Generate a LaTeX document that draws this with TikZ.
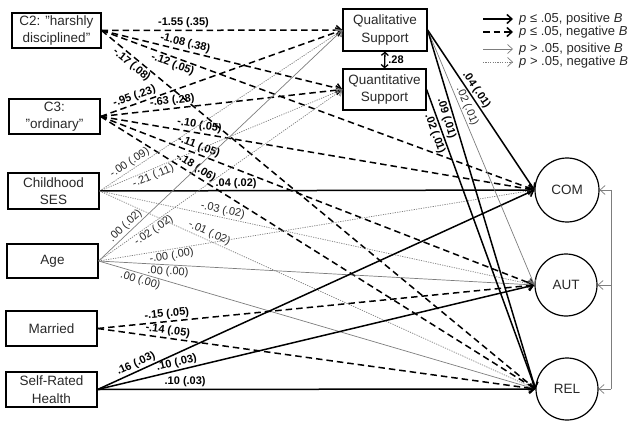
\documentclass[tikz,border=0pt]{standalone}
\usepackage{fontspec}
\setmainfont{Liberation Sans}
\usetikzlibrary{arrows.meta}
\definecolor{nsgray}{RGB}{125,125,125}
\definecolor{txt}{RGB}{40,40,40}
\begin{document}
\begin{tikzpicture}[x=1pt,y=-1pt,
  box/.style={draw, line width=1.2pt, minimum width=90pt, minimum height=35pt, align=center, inner sep=1pt, text=txt, font=\fontsize{13.5}{17.5}\selectfont},
  circ/.style={draw, circle, line width=1.2pt, minimum size=63pt, inner sep=0pt, text=txt, font=\fontsize{13.5}{16}\selectfont},
  tip/.style={-{Straight Barb[length=5pt,width=9pt]}},
  sigpos/.style={line width=1.5pt, black, tip},
  signeg/.style={sigpos, dash pattern=on 6.5pt off 4pt},
  nspos/.style={line width=0.7pt, nsgray, tip},
  nsneg/.style={nspos, dash pattern=on 1.2pt off 1.2pt},
  lab/.style={font=\fontsize{11}{12}\selectfont\bfseries, sloped, inner sep=1.5pt, text=black},
  nlab/.style={font=\fontsize{11}{12}\selectfont, sloped, inner sep=1.5pt, text=txt},
  leg/.style={anchor=west, inner sep=1pt, text=txt, font=\fontsize{13}{14}\selectfont}
]
\useasboundingbox (0,0) rectangle (634,422);

% predictor boxes
\node[box, minimum width=89pt] (c2) at (56.5,30.5) {C2: "harshly\\disciplined"};
\node[box, minimum width=91pt] (c3) at (54.5,116.5) {C3:\\"ordinary"};
\node[box, minimum width=91pt, minimum height=36pt] (ses) at (53.5,191) {Childhood\\SES};
\node[box, minimum width=91pt, minimum height=34pt] (age) at (52.5,261) {Age};
\node[box, minimum width=91pt] (mar) at (51.5,328.5) {Married};
\node[box, minimum width=91pt] (srh) at (51.5,389.5) {Self-Rated\\Health};

% mediators
\node[box, minimum width=84pt, minimum height=42pt] (qual) at (385,30) {Qualitative\\Support};
\node[box, minimum width=83pt, minimum height=41pt] (quant) at (384.5,89.5) {Quantitative\\Support};

% outcomes
\node[circ, minimum size=64pt] (com) at (567,190) {COM};
\node[circ, minimum size=62pt] (aut) at (566,285) {AUT};
\node[circ, minimum size=62pt] (rel) at (567,389) {REL};

% correlation between mediators
\draw[line width=1.3pt, {Straight Barb[length=3pt,width=7pt]}-{Straight Barb[length=3pt,width=7pt]}] (qual.south) -- node[right, inner sep=3pt, font=\fontsize{11}{12}\selectfont\bfseries]{.28} (quant.north);

% C2
\draw[signeg] (c2.east) -- node[lab, above, pos=.34]{-1.55 (.35)} (qual.west);
\draw[signeg] (c2.east) -- node[lab, above, pos=.34]{-1.08 (.38)} (quant.west);
\draw[signeg] (c2.east) -- node[lab, below, pos=.17]{-.12 (.05)} (com.west);
\draw[signeg] (c2.east) -- node[lab, below, pos=.08]{-.17 (.08)} (rel.west);

% C3
\draw[signeg] (c3.east) -- node[lab, above, pos=.15]{-.95 (.23)} (qual.west);
\draw[signeg] (c3.east) -- node[lab, above, pos=.30]{-.63 (.28)} (quant.west);
\draw[signeg] (c3.east) -- node[lab, above, pos=.225]{-.10 (.05)} (com.west);
\draw[signeg] (c3.east) -- node[lab, above, pos=.22]{-.11 (.05)} (aut.west);
\draw[signeg] (c3.east) -- node[lab, above, pos=.21]{-.18 (.06)} (rel.west);

% Childhood SES
\draw[nsneg] (ses.east) -- node[nlab, above, pos=.14]{-.00 (.09)} (qual.west);
\draw[nsneg] (ses.east) -- node[nlab, below, pos=.21]{-.21 (.11)} (quant.west);
\draw[sigpos] (ses.east) -- node[lab, above, pos=.314]{.04 (.02)} (com.west);
\draw[nsneg] (ses.east) -- node[nlab, above, pos=.28]{-.03 (.02)} (aut.west);
\draw[nsneg] (ses.east) -- node[nlab, above, pos=.245]{-.01 (.02)} (rel.west);

% Age
\draw[nspos] (age.east) -- node[nlab, above, pos=.13]{.00 (.02)} (qual.west);
\draw[nsneg] (age.east) -- node[nlab, below, pos=.21]{-.02 (.02)} (quant.west);
\draw[nsneg] (age.east) -- node[nlab, below, pos=.165]{-.00 (.00)} (com.west);
\draw[nspos] (age.east) -- node[nlab, below, pos=.16]{.00 (.00)} (aut.west);
\draw[nspos] (age.east) -- node[nlab, below, pos=.10]{.00 (.00)} (rel.west);

% Married
\draw[signeg] (mar.east) -- node[lab, above, pos=.16]{-.15 (.05)} (aut.west);
\draw[signeg] (mar.east) -- node[lab, above, pos=.158]{-.14 (.05)} (rel.west);

% Self-rated health
\draw[sigpos] (srh.east) -- node[lab, above, pos=.095]{.16 (.03)} (com.west);
\draw[sigpos] (srh.east) -- node[lab, above, pos=.185]{.10 (.03)} (aut.west);
\draw[sigpos] (srh.east) -- node[lab, above, pos=.2]{.10 (.03)} (rel.west);

% mediators to outcomes
\draw[sigpos] (qual.east) -- node[lab, above, pos=.40]{.04 (.01)} (com.west);
\draw[nspos] (qual.east) -- node[nlab, above, pos=.31]{.02 (.01)} (aut.west);
\draw[sigpos] (qual.east) -- node[lab, below, pos=.24]{.09 (.01)} (rel.west);
\draw[sigpos] (quant.east) -- node[lab, below, pos=.14]{.02 (.01)} (rel.west);

% feedback line on the right
\coordinate (fbt) at (611,190);
\coordinate (fbm) at (611,285);
\coordinate (fbb) at (611,389);
\draw[line width=0.7pt, nsgray] (fbt) -- (fbb);
\draw[nspos] (fbt) -- (com.east);
\draw[nspos] (fbm) -- (aut.east);
\draw[nspos] (fbb) -- (rel.east);

% legend
\node[leg] (l1) at (518,19) {\textit{p} ≤ .05, positive \textit{B}};
\node[leg] (l2) at (518,32) {\textit{p} ≤ .05, negative \textit{B}};
\node[leg] (l3) at (518,49) {\textit{p} > .05, positive \textit{B}};
\node[leg] (l4) at (518,62) {\textit{p} > .05, negative \textit{B}};
\coordinate (s1) at (483,19);
\coordinate (s2) at (483,32);
\coordinate (s3) at (483,49);
\coordinate (s4) at (483,62);
\draw[sigpos] (s1) -- ([xshift=-5pt]l1.west);
\draw[signeg] (s2) -- ([xshift=-5pt]l2.west);
\draw[nspos] (s3) -- ([xshift=-5pt]l3.west);
\draw[nsneg] (s4) -- ([xshift=-5pt]l4.west);
\end{tikzpicture}
\end{document}
